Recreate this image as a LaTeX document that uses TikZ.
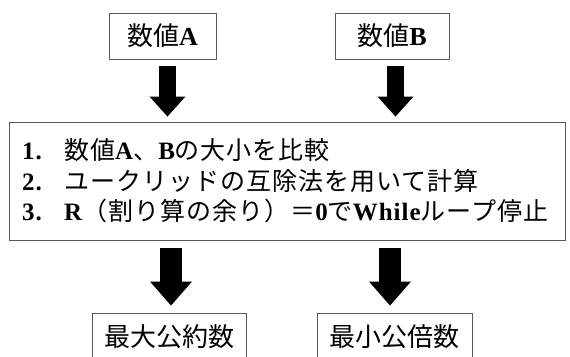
\documentclass[tikz,border=0pt]{standalone}
\usepackage{fontspec}
\usetikzlibrary{arrows.meta}
\setmainfont{Noto Sans CJK JP}
\newfontfamily\latinserif{Liberation Serif}
\newfontfamily\jpsp{Noto Sans CJK JP}[LetterSpace=4]
\newfontfamily\latsp{Liberation Serif}[LetterSpace=4]
\newcommand\lat[1]{{\latinserif\bfseries #1}}
\newcommand\latm[1]{{\latsp\bfseries #1}}
\tikzset{
  box/.style={draw=black!65, line width=0.9pt, inner sep=0pt},
  toparrow/.style={line width=17pt, -{Triangle[width=36pt,length=20pt,line width=0pt]}},
  botarrow/.style={line width=22pt, -{Triangle[width=42pt,length=24pt,line width=0pt]}},
}
\begin{document}
\begin{tikzpicture}[x=1pt,y=-1pt]
\useasboundingbox (0,0) rectangle (570,356);
\fill[white] (0,0) rectangle (570,356);
\node[box, minimum width=107pt, minimum height=46pt, font=\fontsize{26}{30}\selectfont] (a) at (162.5,36) {数値\lat{A}};
\node[box, minimum width=114pt, minimum height=46pt, font=\fontsize{26}{30}\selectfont] (b) at (392,36) {数値\lat{B}};
\node[box, minimum width=556pt, minimum height=118pt, text width=530pt, align=left,
      font=\fontsize{25}{30.5}\selectfont\jpsp] (main) at (287,181) {%
\latm{1.}\hspace{0.9em}数値\latm{A}、\latm{B}の大小を比較\\
\latm{2.}\hspace{0.9em}ユークリッドの互除法を用いて計算\\
\latm{3.}\hspace{0.9em}\latm{R}（割り算の余り）＝\latm{0}で\latm{While}ループ停止};
\node[box, minimum width=154pt, minimum height=47pt, font=\fontsize{26}{30}\selectfont] (gcd) at (169,336.5) {最大公約数};
\node[box, minimum width=155pt, minimum height=47pt, font=\fontsize{26}{30}\selectfont] (lcm) at (394.5,336.5) {最小公倍数};
\draw[toparrow, shorten <=7pt, shorten >=5pt] ([xshift=5pt]a.south) -- ([xshift=5pt]a.south |- main.north);
\draw[toparrow, shorten <=7pt, shorten >=5pt] ([xshift=3.5pt]b.south) -- ([xshift=3.5pt]b.south |- main.north);
\draw[botarrow, shorten <=8pt, shorten >=7pt] ([xshift=2pt]gcd.north |- main.south) -- ([xshift=2pt]gcd.north);
\draw[botarrow, shorten <=8pt, shorten >=7pt] ([xshift=-4.5pt]lcm.north |- main.south) -- ([xshift=-4.5pt]lcm.north);
\end{tikzpicture}
\end{document}
